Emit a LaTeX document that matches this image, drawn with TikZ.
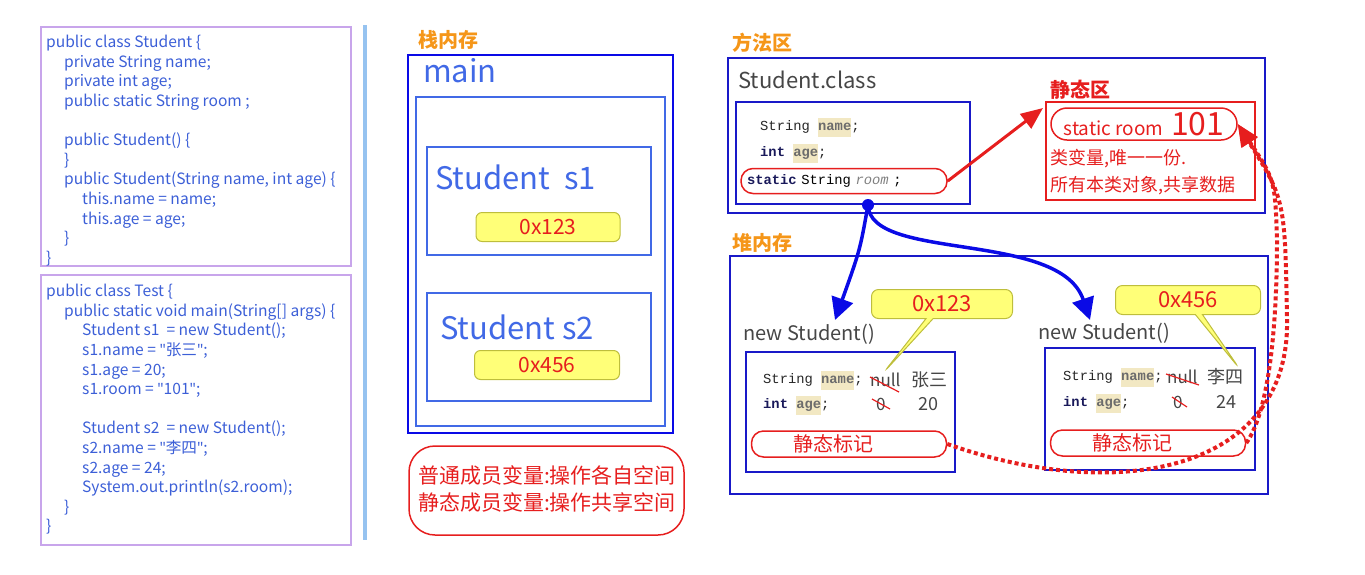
\documentclass[tikz,border=0pt]{standalone}
\usepackage{fontspec}
\setmainfont{Noto Sans CJK SC}
\setmonofont{Liberation Mono}
\newfontfamily\latinfont{Noto Sans}
\usetikzlibrary{shapes.callouts,arrows.meta}

\definecolor{lavender}{RGB}{200,165,235}
\definecolor{codeblue}{RGB}{60,95,215}
\definecolor{barblue}{RGB}{150,195,240}
\definecolor{stackblue}{RGB}{10,10,230}
\definecolor{innerblue}{RGB}{65,105,230}
\definecolor{navyframe}{RGB}{25,25,200}
\definecolor{areaorange}{RGB}{245,150,25}
\definecolor{redc}{RGB}{230,30,30}
\definecolor{yfill}{RGB}{255,255,120}
\definecolor{ydraw}{RGB}{190,190,60}
\definecolor{grayt}{RGB}{70,70,70}
\definecolor{hlbeige}{RGB}{242,232,195}
\definecolor{kwnavy}{RGB}{25,25,90}

\newcommand{\hlw}[1]{{\setlength{\fboxsep}{0pt}\colorbox{hlbeige}{\rule[-6pt]{0pt}{19pt}\textbf{\color{gray!85!black}#1}}}}
\newcommand{\kw}[1]{\textbf{\color{kwnavy}#1}}
\newcommand{\ind}{\hspace*{18pt}}
\newcommand{\qt}{{\latinfont"}}

\begin{document}
\begin{tikzpicture}[x=1pt,y=-1pt, every node/.style={inner sep=0pt},
	codebox/.style={draw=lavender, line width=1.6pt},
	codetext/.style={anchor=north west, align=left, text=codeblue, font=\fontsize{15.6}{19.6}\selectfont},
	areatitle/.style={text=areaorange, font=\fontsize{20}{20}\selectfont\bfseries},
	frame/.style={draw=navyframe, line width=1.6pt},
	addr/.style={rectangle, rounded corners=6pt, fill=yfill, draw=ydraw, line width=1pt, text=redc, font=\fontsize{21}{21}\selectfont},
	bubble/.style={rectangle callout, rounded corners=7pt, fill=yfill, draw=ydraw, line width=1pt, text=redc, font=\fontsize{22}{22}\selectfont, minimum height=29pt},
	redpill/.style={draw=redc, line width=1.5pt, rounded corners=12pt},
	monotext/.style={anchor=west, font=\ttfamily\fontsize{13.8}{13.8}\selectfont, text=black!85},
	graytext/.style={anchor=west, text=grayt, font=\fontsize{20}{20}\selectfont},
	marktext/.style={redpill, minimum width=195pt, minimum height=26pt, text width=111pt, align=left, text=redc, font=\fontsize{20}{20}\selectfont},
	strike/.style={draw=redc, line width=1.2pt},
	bluearrow/.style={draw=stackblue, line width=3.5pt, -{Triangle[length=22pt,width=22pt]}},
	dotarrow/.style={draw=redc, line width=4pt, dash pattern=on 4pt off 3pt, -{Triangle[length=22pt,width=18pt]}}]
	\useasboundingbox (0,0) rectangle (1365,574);

	% source code
	\draw[codebox] (41,27) rectangle (351,266);
	\node[codetext] (studentcode) at (46,35) {public class Student \{\\
		\ind private String name;\\
		\ind private int age;\\
		\ind public static String room ;\\
		~\\
		\ind public Student() \{\\
		\ind \}\\
		\ind public Student(String name, int age) \{\\
		\ind\ind this.name = name;\\
		\ind\ind this.age = age;\\
		\ind \}\\
		\}};
	\draw[codebox] (41,275) rectangle (351,545);
	\node[codetext] (testcode) at (46,284) {public class Test \{\\
		\ind public static void main(String[] args) \{\\
		\ind\ind Student s1\ \ = new Student();\\
		\ind\ind s1.name = \qt 张三\qt;\\
		\ind\ind s1.age = 20;\\
		\ind\ind s1.room = \qt 101\qt;\\
		~\\
		\ind\ind Student s2\ \ = new Student();\\
		\ind\ind s2.name = \qt 李四\qt;\\
		\ind\ind s2.age = 24;\\
		\ind\ind System.out.println(s2.room);\\
		\ind \}\\
		\}};
	\fill[barblue] (363,25) rectangle (367,540);

	% stack
	\node[areatitle] (stacktitle) at (448,40) {栈内存};
	\draw[stackblue, line width=2pt] (408,55) rectangle (673,433);
	\node[anchor=west, text=innerblue, font=\fontsize{31}{31}\selectfont] (mainlabel) at (423,71) {main};
	\draw[innerblue, line width=1.6pt] (416,97) rectangle (665,426);
	\draw[innerblue, line width=1.6pt] (427,147) rectangle (651,255);
	\node[anchor=west, text=innerblue, font=\fontsize{31}{31}\selectfont] (sone) at (435,177) {Student\ \ s1};
	\node[addr, minimum width=144pt, minimum height=29pt] (sonevalue) at (548,227) {0x123};
	\draw[innerblue, line width=1.6pt] (427,293) rectangle (651,401);
	\node[anchor=west, text=innerblue, font=\fontsize{31}{31}\selectfont] (stwo) at (440,327) {Student s2};
	\node[addr, minimum width=145pt, minimum height=29pt] (stwovalue) at (547,365) {0x456};
	\draw[redc, line width=1.5pt, rounded corners=26pt] (409,446) rectangle (684,535);
	\node[text=redc, align=left, font=\fontsize{21}{27.5}\selectfont] (ruletext) at (547,489) {普通成员变量:操作各自空间\\静态成员变量:操作共享空间};

	% method area
	\node[areatitle] (methodtitle) at (762,43) {方法区};
	\draw[frame] (728,58) rectangle (1265,213);
	\node[graytext, font=\fontsize{22}{22}\selectfont] (classname) at (738,80) {Student.class};
	\draw[frame] (736,102) rectangle (970,204);
	\node[monotext] (fieldname) at (760,127) {String \hlw{name};};
	\node[monotext] (fieldage) at (760,153) {\kw{int} \hlw{age};};
	\node[redpill, minimum width=206pt, minimum height=25pt, text width=194pt, align=left, font=\ttfamily\fontsize{13.8}{13.8}\selectfont] (fieldroom) at (844,181) {\kw{static} String {\color{gray}\itshape room} ;};
	\node[text=redc, font=\fontsize{20}{20}\selectfont\bfseries] (statictitle) at (1080,90) {静态区};
	\draw[redc, line width=1.6pt] (1046,102) rectangle (1255,200);
	\node[redpill, rounded corners=16pt, minimum width=186pt, minimum height=32pt, text=redc] (roomcell) at (1144,124) {{\fontsize{19}{19}\selectfont static room}\hspace{8pt}{\fontsize{32}{32}\selectfont 101}};
	\node[anchor=north west, align=left, text=redc, font=\fontsize{18}{27}\selectfont] (staticnote) at (1050,149) {类变量,唯一一份.\\所有本类对象,共享数据};
	\coordinate (staticcorner) at (1043,108);
	\draw[redc, line width=3pt, -{Triangle[length=22pt,width=18pt]}] (fieldroom.east) -- (staticcorner);

	% heap
	\node[areatitle] (heaptitle) at (762,243) {堆内存};
	\draw[frame] (730,256) rectangle (1268,494);
	% first object
	\node[graytext] (newone) at (743,334) {new Student()};
	\draw[frame] (746,352) rectangle (955,472);
	\node[monotext] (onename) at (763,380) {String \hlw{name};};
	\node[anchor=west, text=grayt, font=\fontsize{17}{17}\selectfont] (onenull) at (870,380) {null};
	\node[anchor=west, text=grayt, font=\fontsize{18}{18}\selectfont] (onenameval) at (911,380) {张三};
	\node[monotext] (oneage) at (763,405) {\kw{int} \hlw{age};};
	\node[anchor=west, text=grayt, font=\fontsize{17}{17}\selectfont] (onezero) at (876,404) {0};
	\node[anchor=west, text=grayt, font=\fontsize{18}{18}\selectfont] (oneageval) at (918,404) {20};
	\draw[strike] (870,377) -- (899,392);
	\draw[strike] (872,399) -- (890,409);
	\node[marktext] (onemark) at (849,444) {静态标记};
	\coordinate (onetip) at (884,372);
	\node[bubble, minimum width=141pt, callout absolute pointer={(onetip)}] (onebubble) at (942,304) {0x123};
	% second object
	\node[graytext] (newtwo) at (1038,333) {new Student()};
	\draw[frame] (1045,348) rectangle (1255,470);
	\node[monotext] (twoname) at (1063,377) {String \hlw{name};};
	\node[anchor=west, text=grayt, font=\fontsize{17}{17}\selectfont] (twonull) at (1167,377) {null};
	\node[anchor=west, text=grayt, font=\fontsize{18}{18}\selectfont] (twonameval) at (1207,377) {李四};
	\node[monotext] (twoage) at (1063,403) {\kw{int} \hlw{age};};
	\node[anchor=west, text=grayt, font=\fontsize{17}{17}\selectfont] (twozero) at (1173,402) {0};
	\node[anchor=west, text=grayt, font=\fontsize{18}{18}\selectfont] (twoageval) at (1216,402) {24};
	\draw[strike] (1166,374) -- (1199,385);
	\draw[strike] (1172,397) -- (1187,407);
	\node[marktext] (twomark) at (1148,443) {静态标记};
	\coordinate (twotip) at (1239,368);
	\node[bubble, minimum width=145pt, callout absolute pointer={(twotip)}] (twobubble) at (1188,300) {0x456};

	% references
	\fill[stackblue] (868,205) circle (6pt) coordinate (refdot);
	\coordinate (onetop) at (835,320);
	\coordinate (twotop) at (1090,320);
	\draw[bluearrow] (refdot) .. controls (860,250) .. (onetop);
	\draw[bluearrow] (refdot) .. controls (870,262) and (1060,230) .. (twotop);
	\draw[dotarrow] (onemark.east) .. controls (1120,505) and (1290,470) .. (1287,320) .. controls (1285,200) .. (roomcell.east);
	\draw[dotarrow] (twomark.east) .. controls (1270,410) and (1277,320) .. (1277,240) .. controls (1275,180) .. (roomcell.east);
\end{tikzpicture}
\end{document}
